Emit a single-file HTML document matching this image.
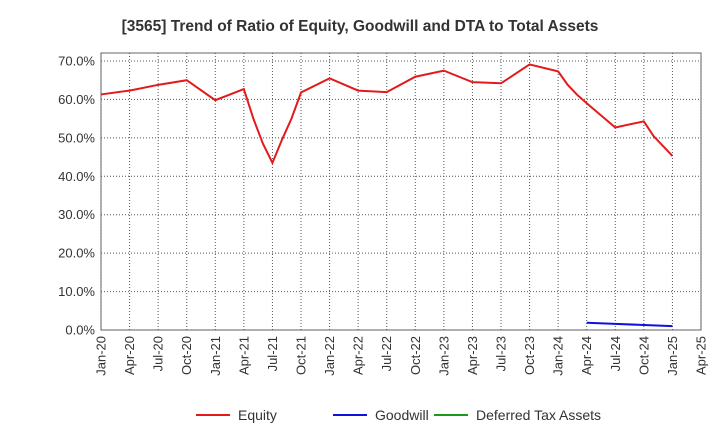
<!DOCTYPE html>
<html><head><meta charset="utf-8"><style>
body{margin:0;background:#fff;font-family:"Liberation Sans",sans-serif}
svg text{font-family:"Liberation Sans",sans-serif}
</style></head><body>
<svg id="c" width="720" height="440">
<text x="360" y="31" text-anchor="middle" font-size="15.5" font-weight="bold" fill="#333">[3565]  Trend of Ratio of Equity, Goodwill and DTA to Total Assets</text>
</svg>
<script>
const xTicks=["Jan-20","Apr-20","Jul-20","Oct-20","Jan-21","Apr-21","Jul-21","Oct-21","Jan-22","Apr-22","Jul-22","Oct-22","Jan-23","Apr-23","Jul-23","Oct-23","Jan-24","Apr-24","Jul-24","Oct-24","Jan-25","Apr-25"];
const yTicks=[0,10,20,30,40,50,60,70];
// months since Jan-20
const equityMonths=[0,3,6,9,12,15,16,17,18,19,20,21,24,27,30,33,36,39,42,45,48,49,50,51,54,57,58,60];
const equityValues=[61.3,62.3,63.8,65.0,59.8,62.7,55.0,48.5,43.5,49.5,55.0,61.8,65.5,62.3,61.9,65.9,67.5,64.5,64.2,69.1,67.3,63.8,61.2,59.0,52.7,54.3,50.5,45.3];
const goodwillMonths=[51,54,57,60];
const goodwillValues=[1.9,1.6,1.3,1.0];
const dtaMonths=[];
const dtaValues=[];
const svg=document.getElementById('c');const NS='http://www.w3.org/2000/svg';
const L=101,R=701,T=53,B=330;
const xs=m=>L+(R-L)*m/63;
const ys=v=>B-(B-61)*v/70;
function mk(t,a){const e=document.createElementNS(NS,t);for(const k in a)e.setAttribute(k,a[k]);svg.appendChild(e);return e;}
let bg=mk('rect',{x:L,y:T,width:R-L,height:B-T,fill:'#fff',stroke:'#666'});


yTicks.forEach(v=>{const y=ys(v);
 let g=mk('line',{x1:L,x2:R,y1:y,y2:y,stroke:'#555','stroke-dasharray':'1,2'});
 
 
 let t=mk('text',{x:L-6,y:y+4.5,'text-anchor':'end','font-size':13,fill:'#333'});t.textContent=v.toFixed(1)+'%';
 
 
});
xTicks.forEach((s,i)=>{const x=xs(i*3);
 let g=mk('line',{x1:x,x2:x,y1:T,y2:B,stroke:'#555','stroke-dasharray':'1,2'});
 
 
 let t=mk('text',{x:x+4.5,y:B+6,'text-anchor':'end','font-size':13,fill:'#333',transform:`rotate(-90 ${x+4.5} ${B+6})`});t.textContent=s;
 
 
});
function line(ms,vs,c,n){if(!ms.length)return;
 let p=mk('polyline',{points:ms.map((m,i)=>xs(m)+','+ys(vs[i])).join(' '),fill:'none',stroke:c,'stroke-width':2});
 
 }
line(equityMonths,equityValues,'#e31a1c','equity-line');
line(goodwillMonths,goodwillValues,'#1010e0','goodwill-line');
line(dtaMonths,dtaValues,'#1a9a1a','dta-line');
[["Equity","#e31a1c",196],["Goodwill","#1010e0",333],["Deferred Tax Assets","#1a9a1a",434]].forEach(([n,c,x])=>{
 let l=mk('line',{x1:x,x2:x+34,y1:415,y2:415,stroke:c,'stroke-width':2});
 
 
 let t=mk('text',{x:x+42,y:420,'font-size':14,fill:'#333'});t.textContent=n;
 
 
});
</script>
</body></html>
